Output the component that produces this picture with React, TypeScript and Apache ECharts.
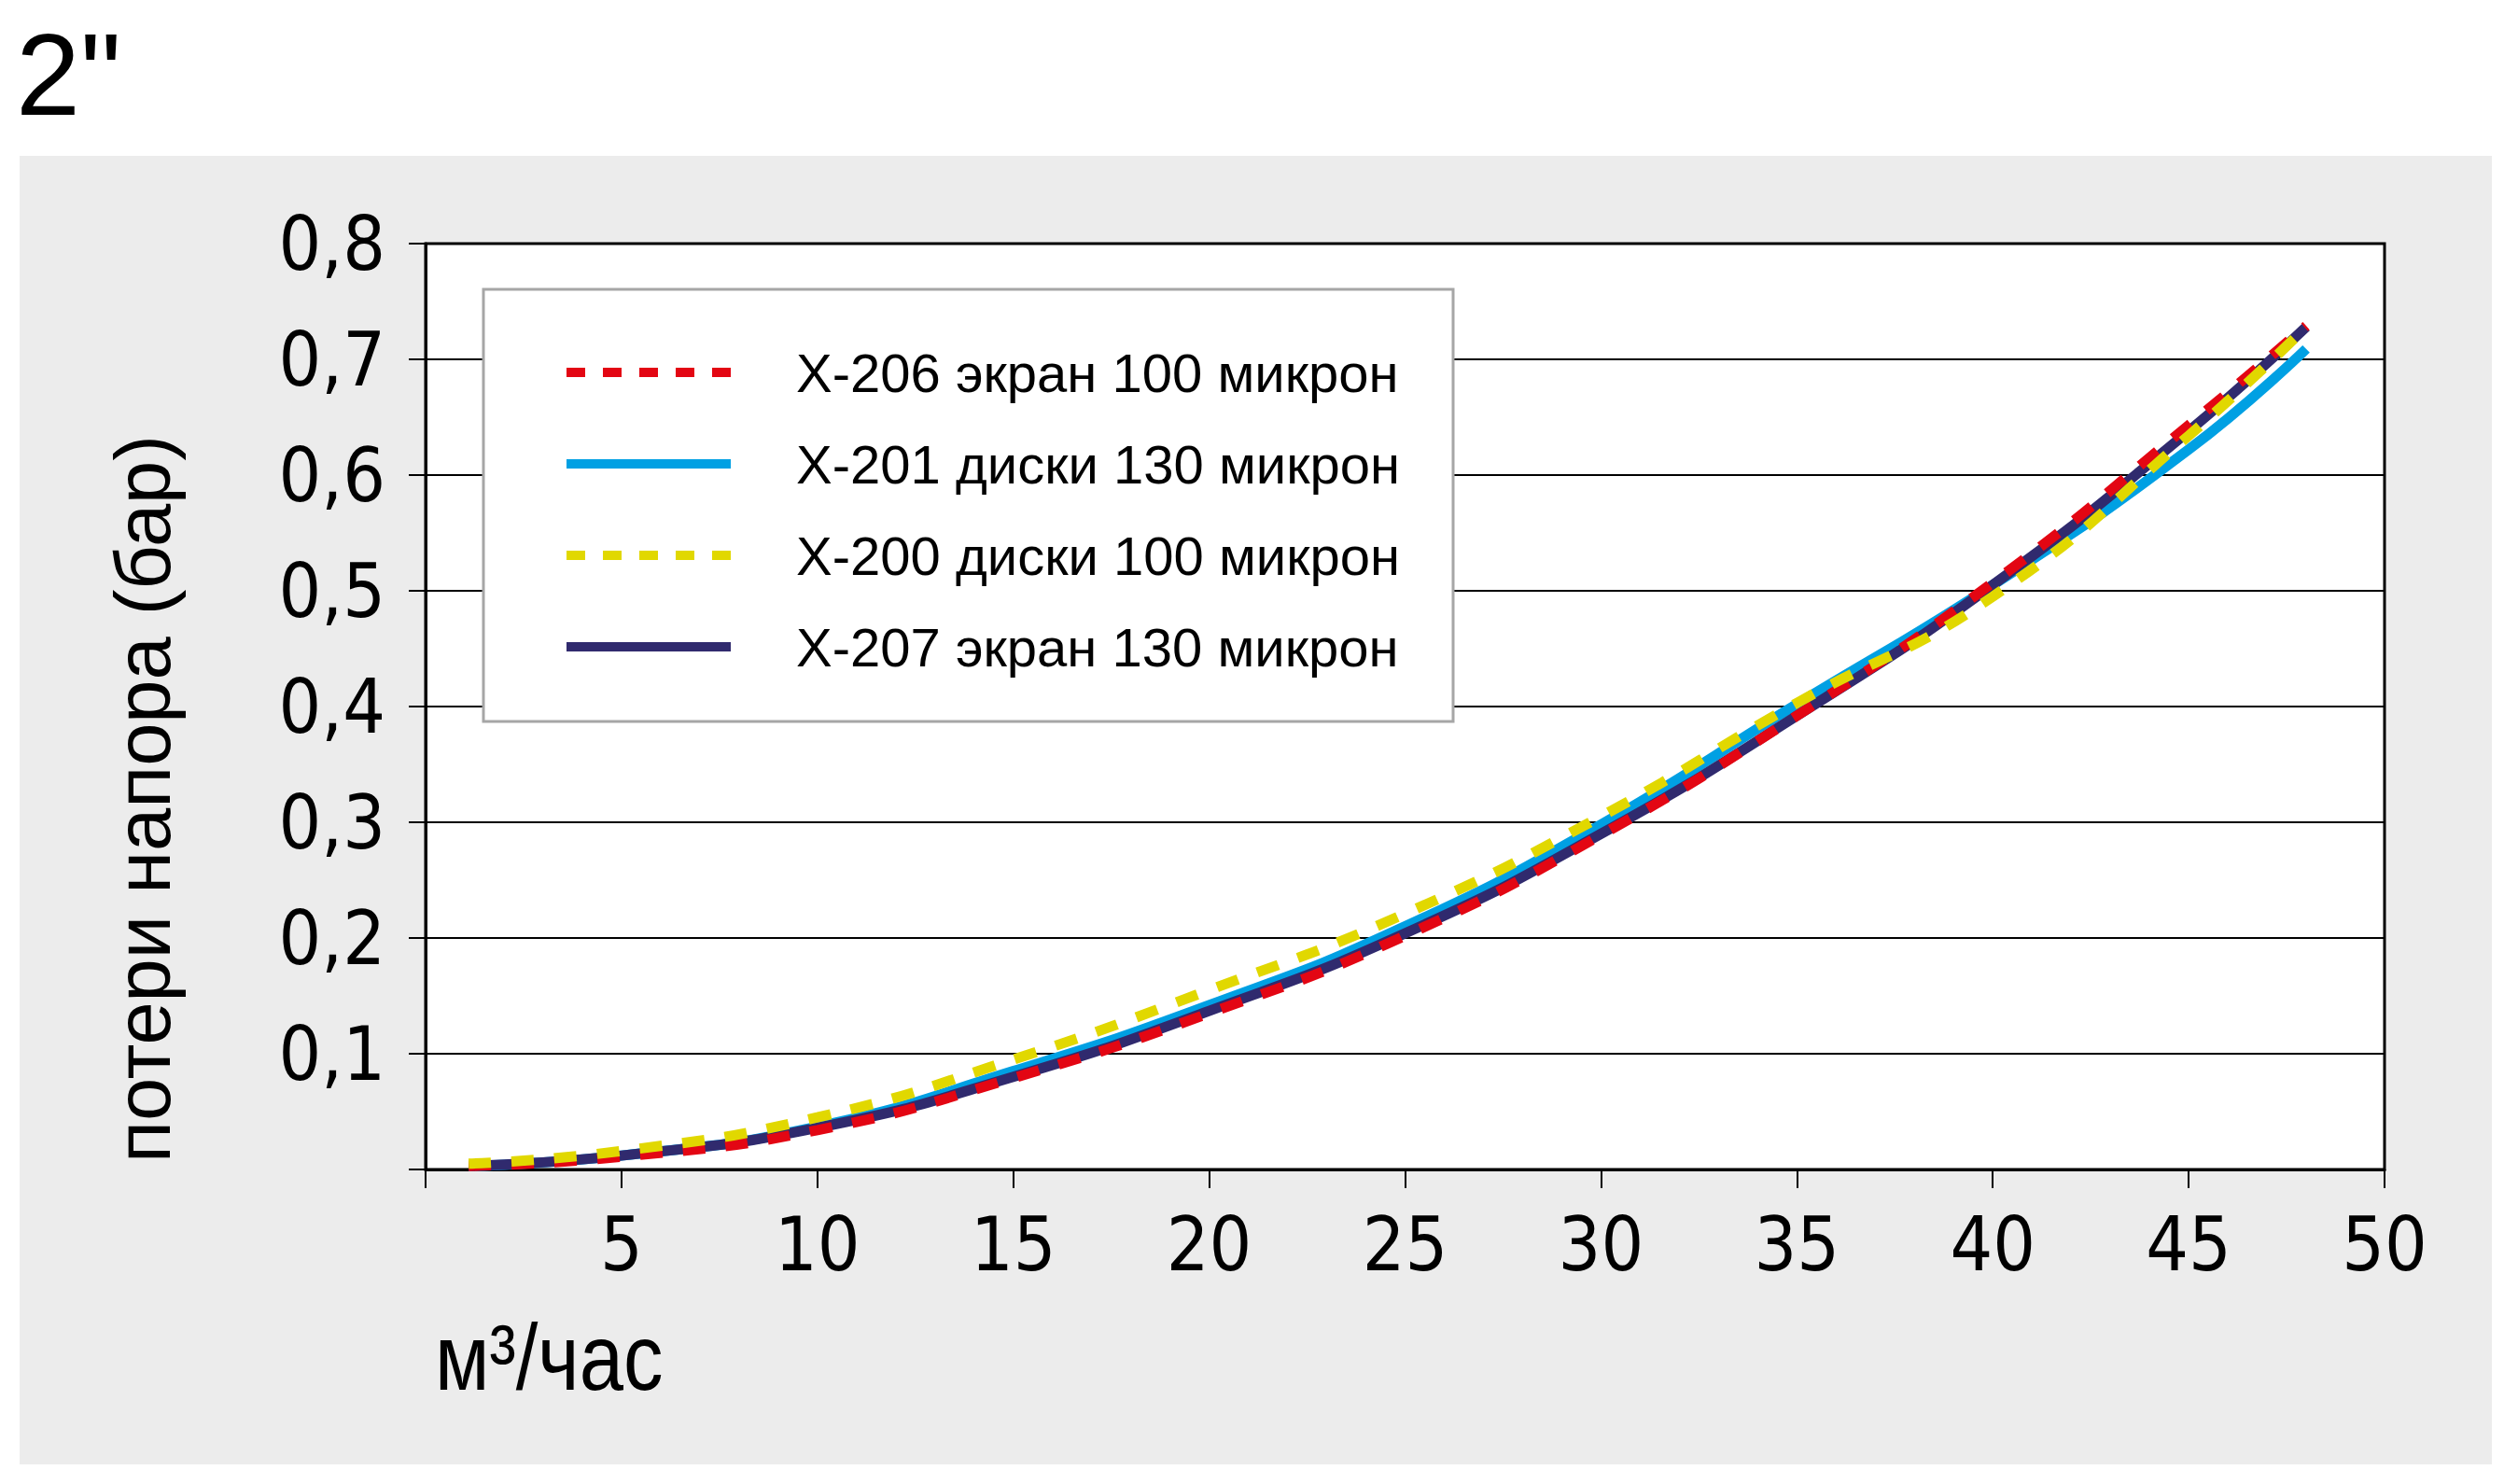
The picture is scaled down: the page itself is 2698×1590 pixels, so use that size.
import React, { useEffect, useRef } from 'react';
import * as echarts from 'echarts';

// Flow, m³/h (x) and head loss, bar (y)
const flowX = [1.1, 5, 10, 15, 20, 25, 30, 35, 40, 45, 48];
const x206 = [0.003, 0.011, 0.034, 0.079, 0.135, 0.202, 0.289, 0.392, 0.507, 0.643, 0.729];
const x201 = [0.003, 0.012, 0.037, 0.085, 0.142, 0.21, 0.298, 0.402, 0.505, 0.622, 0.709];
const x200 = [0.005, 0.016, 0.045, 0.095, 0.155, 0.221, 0.305, 0.403, 0.495, 0.634, 0.728];
const x207 = [0.003, 0.012, 0.036, 0.08, 0.137, 0.204, 0.29, 0.392, 0.505, 0.638, 0.728];

const seriesNames = [
  'X-206 экран 100 микрон',
  'X-201 диски 130 микрон',
  'X-200 диски 100 микрон',
  'X-207 экран 130 микрон',
];
const seriesColors = ['#e30613', '#00a0e3', '#e1d800', '#302a6e'];
const seriesValues = [x206, x201, x200, x207];
const seriesDashed = [true, false, true, false];
// drawing order bottom → top: blue, navy, red, yellow
const drawOrder = [1, 3, 0, 2];

const chartTitle = '2"';
const yTitle = 'потери напора (бар)';
const xTitle = 'м³/час';

const W = 2698;
const H = 1590;

export default function App() {
  const ref = useRef<HTMLDivElement>(null);
  useEffect(() => {
    if (!ref.current) return;
    const chart = echarts.init(ref.current, null, { renderer: 'svg' });
    const narrow = "'Liberation Sans Narrow', 'Arial Narrow', 'DejaVu Sans Condensed', sans-serif";
    const sans = "'Liberation Sans', Arial, Helvetica, sans-serif";

    const legendRows = [399, 497, 595, 693];
    const legendEls: any[] = [
      {
        type: 'rect',
        shape: { x: 518, y: 310, width: 1039, height: 463 },
        style: { fill: '#ffffff', stroke: '#a6a6a6', lineWidth: 3 },
        z: 100,
      },
    ];
    seriesNames.forEach((name, i) => {
      legendEls.push({
        type: 'line',
        shape: { x1: 607, y1: legendRows[i], x2: 783, y2: legendRows[i] },
        style: {
          stroke: seriesColors[i],
          lineWidth: 10,
          lineDash: seriesDashed[i] ? [20, 19] : null,
          lineCap: 'butt',
        },
        z: 101,
      });
      legendEls.push({
        type: 'text',
        x: 853,
        y: legendRows[i],
        style: {
          text: name,
          fill: '#000',
          fontSize: 58,
          fontFamily: sans,
          align: 'left',
          textAlign: 'left',
          verticalAlign: 'middle',
          textVerticalAlign: 'middle',
        },
        z: 101,
      });
    });

    const option: any = {
      animation: false,
      backgroundColor: '#ffffff',
      grid: {
        left: 456,
        right: W - 2555,
        top: 261,
        bottom: H - 1253,
        show: true,
        backgroundColor: '#ffffff',
        borderColor: '#000000',
        borderWidth: 3,
        containLabel: false,
      },
      xAxis: {
        type: 'value',
        min: 0,
        max: 50,
        interval: 5,
        axisLine: { show: true, lineStyle: { color: '#000', width: 3 } },
        axisTick: { show: true, length: 20, lineStyle: { color: '#000', width: 2 } },
        axisLabel: {
          margin: 40,
          fontSize: 80,
          fontFamily: narrow,
          color: '#000',
          formatter: (v: number) => (v === 0 ? '' : String(v)),
        },
        splitLine: { show: false },
      },
      yAxis: {
        type: 'value',
        min: 0,
        max: 0.8,
        interval: 0.1,
        axisLine: { show: true, lineStyle: { color: '#000', width: 3 } },
        axisTick: { show: true, length: 18, lineStyle: { color: '#000', width: 2 } },
        axisLabel: {
          margin: 43,
          fontSize: 80,
          fontFamily: narrow,
          color: '#000',
          formatter: (v: number) => (v === 0 ? '' : v.toFixed(1).replace('.', ',')),
        },
        splitLine: { show: true, lineStyle: { color: '#000', width: 2 } },
      },
      series: drawOrder.map((i, k) => ({
        type: 'line',
        name: seriesNames[i],
        data: flowX.map((x, j) => [x, seriesValues[i][j]]),
        smooth: true,
        symbol: 'none',
        showSymbol: false,
        z: 2 + k,
        lineStyle: {
          color: seriesColors[i],
          width: 11,
          type: seriesDashed[i] ? [24, 22] : 'solid',
          cap: 'butt',
        },
        itemStyle: { color: seriesColors[i] },
      })),
      graphic: {
        elements: [
          {
            type: 'rect',
            shape: { x: 21, y: 167, width: 2649, height: 1402 },
            style: { fill: '#ececec' },
            z: -100,
          },
          {
            type: 'text',
            x: 17,
            y: 80,
            style: {
              text: chartTitle,
              fill: '#000',
              fontSize: 124,
              fontFamily: sans,
              align: 'left',
              textAlign: 'left',
              verticalAlign: 'middle',
              textVerticalAlign: 'middle',
            },
            z: 50,
          },
          {
            type: 'text',
            x: 153,
            y: 856,
            rotation: Math.PI / 2,
            style: {
              text: yTitle,
              fill: '#000',
              fontSize: 83,
              fontFamily: sans,
              align: 'center',
              textAlign: 'center',
              verticalAlign: 'middle',
              textVerticalAlign: 'middle',
            },
            z: 50,
          },
          {
            type: 'text',
            x: 466,
            y: 1455,
            scaleX: 0.85,
            scaleY: 1,
            style: {
              text: xTitle,
              fill: '#000',
              fontSize: 100,
              fontFamily: sans,
              align: 'left',
              textAlign: 'left',
              verticalAlign: 'middle',
              textVerticalAlign: 'middle',
            },
            z: 50,
          },
          ...legendEls,
        ],
      },
    };
    chart.setOption(option);
    return () => {
      chart.dispose();
    };
  }, []);
  return <div ref={ref} style={{ position: 'absolute', left: 0, top: 0, width: W, height: H }} />;
}
